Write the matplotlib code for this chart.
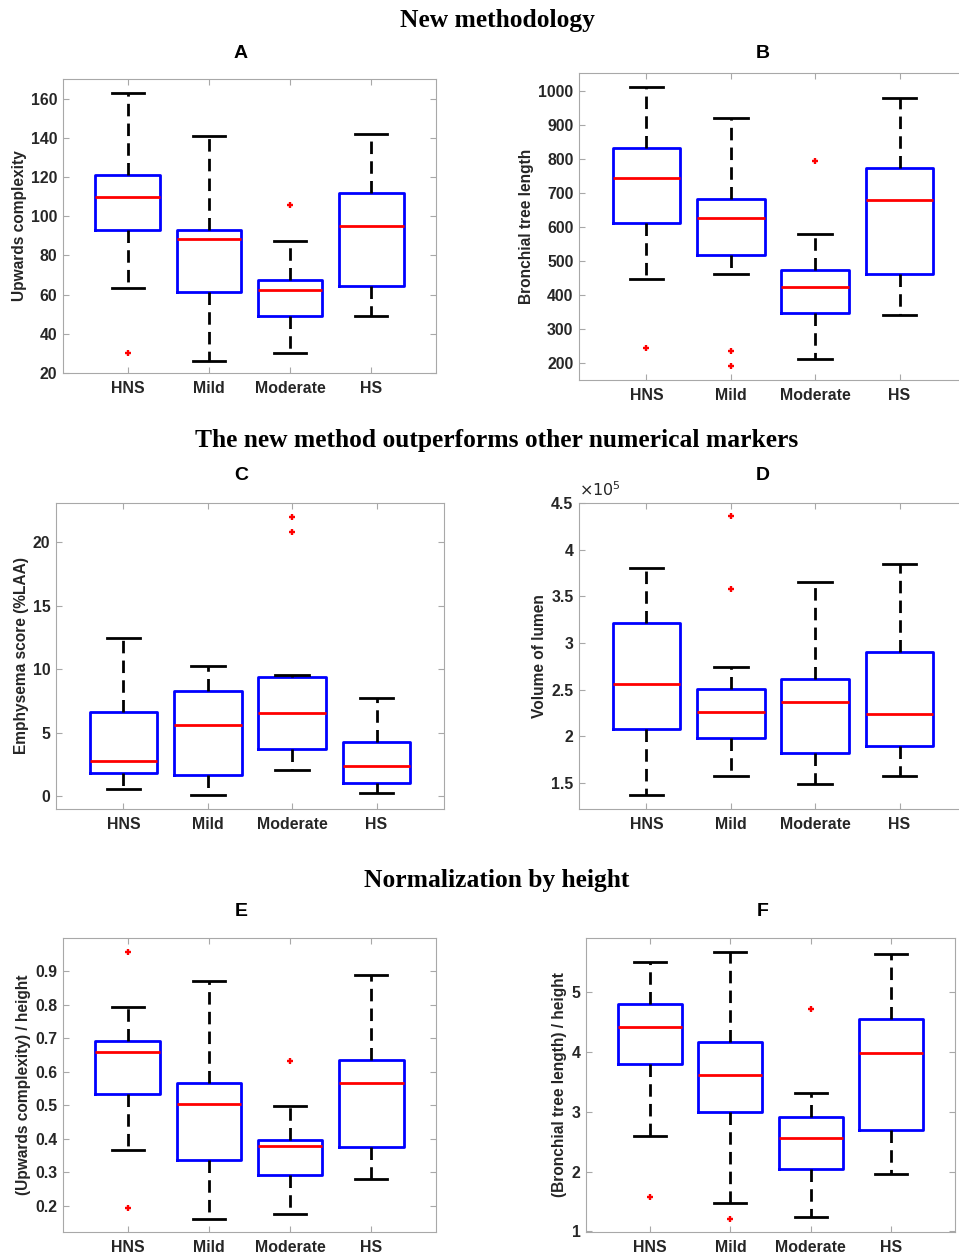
import matplotlib
matplotlib.use("Agg")
import matplotlib.pyplot as plt
from matplotlib.ticker import FuncFormatter

plt.rcParams['font.family'] = ['Liberation Sans', 'DejaVu Sans']

groups = ["HNS", "Mild", "Moderate", "HS"]

# A: upwards complexity
a_lo = [63.3, 26.3, 30.2, 49.1]
a_q1 = [93.1, 61.2, 49.1, 64.6]
a_med = [109.6, 88.6, 62.2, 95.1]
a_q3 = [121.0, 93.1, 67.2, 111.6]
a_hi = [163.1, 140.9, 87.1, 141.9]
a_out = [[30.2], [], [105.8], []]

# B: bronchial tree length
b_lo = [446, 462, 212, 341]
b_q1 = [612, 519, 348, 461]
b_med = [745, 626, 423, 680]
b_q3 = [832, 681, 474, 774]
b_hi = [1012, 919, 579, 980]
b_out = [[244], [236, 192], [794], []]

# C: emphysema score
c_lo = [0.58, 0.10, 2.04, 0.24]
c_q1 = [1.86, 1.65, 3.74, 1.05]
c_med = [2.80, 5.59, 6.54, 2.35]
c_q3 = [6.64, 8.29, 9.41, 4.24]
c_hi = [12.47, 10.27, 9.52, 7.74]
c_out = [[], [], [21.96, 20.81], []]

# D: volume of lumen
d_lo = [137500, 157500, 149300, 157900]
d_q1 = [207900, 197900, 181800, 190000]
d_med = [255700, 225700, 237100, 224300]
d_q3 = [321800, 251100, 261400, 290400]
d_hi = [380000, 274300, 365400, 384600]
d_out = [[], [435700, 358200], [], []]

# E: upwards complexity / height
e_lo = [0.366, 0.161, 0.175, 0.280]
e_q1 = [0.535, 0.335, 0.2915, 0.375]
e_med = [0.658, 0.505, 0.377, 0.565]
e_q3 = [0.693, 0.565, 0.397, 0.636]
e_hi = [0.794, 0.871, 0.498, 0.888]
e_out = [[0.959, 0.192], [], [0.631], []]

# F: bronchial tree length / height
f_lo = [2.60, 1.467, 1.244, 1.961]
f_q1 = [3.80, 2.994, 2.039, 2.694]
f_med = [4.411, 3.611, 2.556, 3.972]
f_q3 = [4.806, 4.156, 2.911, 4.55]
f_hi = [5.50, 5.667, 3.306, 5.633]
f_out = [[1.572], [1.211], [4.717], []]

W, H = 959, 1255
fig = plt.figure(figsize=(W / 100, H / 100), dpi=100)

gray = '#a8a8a8'
txt = '#262626'


def px_axes(l, t, r, b):
    return fig.add_axes([l / W, 1 - b / H, (r - l) / W, (b - t) / H])


def draw_panel(ax, lo, q1, med, q3, hi, out, ylim, yticks, ylabel):
    stats = []
    for i, g in enumerate(groups):
        stats.append(dict(label=g, whislo=lo[i], q1=q1[i], med=med[i],
                          q3=q3[i], whishi=hi[i], fliers=out[i]))
    ax.bxp(stats, widths=0.8, showfliers=True,
           boxprops=dict(color='#0000ff', lw=2.0),
           medianprops=dict(color='#ff0000', lw=2.0),
           whiskerprops=dict(color='black', lw=2.0, ls=(0, (4.5, 2.6))),
           capprops=dict(color='black', lw=2.0),
           flierprops=dict(marker='+', markeredgecolor='#ff0000',
                           markersize=5, markeredgewidth=1.7))
    ax.set_xlim(0.2, 4.8)
    ax.set_ylim(*ylim)
    ax.set_yticks(yticks)
    ax.yaxis.set_major_formatter(FuncFormatter(lambda v, p: f"{v:g}"))
    ax.tick_params(direction='in', top=True, right=True, length=4,
                   color=gray, labelcolor=txt)
    ax.tick_params(axis='x', pad=6, labelsize=11.4)
    ax.tick_params(axis='y', pad=4, labelsize=11.4)
    for lab in ax.get_xticklabels() + ax.get_yticklabels():
        lab.set_fontweight('bold')
    for s in ax.spines.values():
        s.set_color(gray)
    ax.set_ylabel(ylabel, fontsize=11.2, fontweight='bold', color=txt,
                  labelpad=3)


axA = px_axes(63, 79, 436, 373)
draw_panel(axA, a_lo, a_q1, a_med, a_q3, a_hi, a_out, (20, 170),
           range(20, 161, 20), 'Upwards complexity')

axB = px_axes(579, 73, 967, 380)
draw_panel(axB, b_lo, b_q1, b_med, b_q3, b_hi, b_out, (151, 1052),
           range(200, 1001, 100), 'Bronchial tree length')

axC = px_axes(56, 503, 444, 809)
draw_panel(axC, c_lo, c_q1, c_med, c_q3, c_hi, c_out, (-1, 23.06),
           [0, 5, 10, 15, 20], 'Emphysema score (%LAA)')

axD = px_axes(579, 503, 967, 809)
draw_panel(axD, d_lo, d_q1, d_med, d_q3, d_hi, d_out, (122100, 450000),
           [150000, 200000, 250000, 300000, 350000, 400000, 450000],
           'Volume of lumen')
axD.yaxis.set_major_formatter(FuncFormatter(lambda v, p: f"{v / 1e5:g}"))
axD.text(0.0, 1.012, r'$\times10^5$', transform=axD.transAxes,
         fontsize=11.5, color=txt, ha='left', va='bottom')

axE = px_axes(63, 938, 436, 1232)
draw_panel(axE, e_lo, e_q1, e_med, e_q3, e_hi, e_out, (0.121, 1.0),
           [0.2, 0.3, 0.4, 0.5, 0.6, 0.7, 0.8, 0.9],
           '(Upwards complexity) / height')

axF = px_axes(586, 938, 955, 1232)
draw_panel(axF, f_lo, f_q1, f_med, f_q3, f_hi, f_out, (0.99, 5.9),
           [1, 2, 3, 4, 5], '(Bronchial tree length) / height')

# panel letters
for letter, x, y in [('A', 241, 53), ('B', 763, 53), ('C', 241, 475),
                     ('D', 763, 475), ('E', 241, 911), ('F', 763, 911)]:
    fig.text(x / W, 1 - y / H, letter, ha='center', va='center',
             fontsize=14, fontweight='bold', color='black')

# section headings
for head, y in [('New methodology', 20),
                ('The new method outperforms other numerical markers', 440),
                ('Normalization by height', 880)]:
    fig.text(497 / W, 1 - y / H, head, ha='center', va='center',
             fontsize=18.4, fontweight='bold', family='Liberation Serif')

fig.savefig('out.png', dpi=100)
